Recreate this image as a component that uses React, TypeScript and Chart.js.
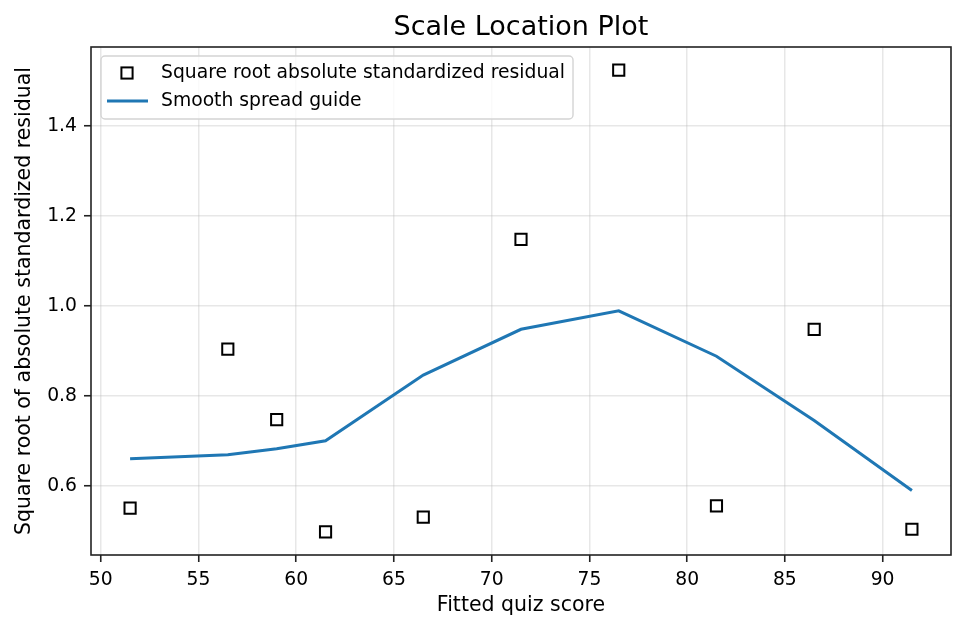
import React, { useEffect, useRef } from "react";
import { Chart, registerables } from "chart.js";

Chart.register(...registerables);

// Fitted values and diagnostic measures
const fittedScores = [51.5, 56.5, 59, 61.5, 66.5, 71.5, 76.5, 81.5, 86.5, 91.5];
const sqrtStdResiduals = [0.55, 0.904, 0.747, 0.497, 0.53, 1.148, 1.525, 0.555, 0.948, 0.503];
const smoothSpread = [0.66, 0.669, 0.682, 0.7, 0.846, 0.948, 0.989, 0.888, 0.745, 0.589];

// Axis tick positions
const xTicks = [50, 55, 60, 65, 70, 75, 80, 85, 90];
const yTicks = [0.6, 0.8, 1.0, 1.2, 1.4];

const TITLE = "Scale Location Plot";
const X_LABEL = "Fitted quiz score";
const Y_LABEL = "Square root of absolute standardized residual";
const SCATTER_LABEL = "Square root absolute standardized residual";
const LINE_LABEL = "Smooth spread guide";

const FONT = "'DejaVu Sans', 'Liberation Sans', sans-serif";
const LINE_BLUE = "#1f77b4";
const MARKER_RADIUS = 7.9;

// Axis limits: data extent plus a 5% margin on each side
function padded(vals: number[]): [number, number] {
  const lo = Math.min(...vals);
  const hi = Math.max(...vals);
  const m = (hi - lo) * 0.05;
  return [lo - m, hi + m];
}
const [xMin, xMax] = padded(fittedScores);
const [yMin, yMax] = padded([...sqrtStdResiduals, ...smoothSpread]);

// Draws the title, the full axes frame and the boxed legend inside the plot
const decorations = {
  id: "decorations",
  afterDraw(chart: any) {
    const { ctx, chartArea: a } = chart;
    ctx.save();

    // frame around the plotting area
    ctx.strokeStyle = "#222";
    ctx.lineWidth = 1.6;
    ctx.strokeRect(a.left, a.top, a.right - a.left, a.bottom - a.top);

    // title
    ctx.fillStyle = "#000";
    ctx.font = `27px ${FONT}`;
    ctx.textAlign = "center";
    ctx.textBaseline = "alphabetic";
    ctx.fillText(TITLE, (a.left + a.right) / 2, 35);

    // legend
    const ds = chart.data.datasets;
    ctx.font = `18.75px ${FONT}`;
    const boxX = a.left + 10;
    const boxY = a.top + 9;
    const textX = a.left + 70;
    const textW = Math.max(...ds.map((d: any) => ctx.measureText(d.label).width));
    const boxW = textX + textW + 8 - boxX;
    const boxH = 63;
    const r = 4;
    ctx.beginPath();
    ctx.moveTo(boxX + r, boxY);
    ctx.lineTo(boxX + boxW - r, boxY);
    ctx.arcTo(boxX + boxW, boxY, boxX + boxW, boxY + r, r);
    ctx.lineTo(boxX + boxW, boxY + boxH - r);
    ctx.arcTo(boxX + boxW, boxY + boxH, boxX + boxW - r, boxY + boxH, r);
    ctx.lineTo(boxX + r, boxY + boxH);
    ctx.arcTo(boxX, boxY + boxH, boxX, boxY + boxH - r, r);
    ctx.lineTo(boxX, boxY + r);
    ctx.arcTo(boxX, boxY, boxX + r, boxY, r);
    ctx.closePath();
    ctx.fillStyle = "rgba(255,255,255,0.8)";
    ctx.fill();
    ctx.strokeStyle = "#d4d4d4";
    ctx.lineWidth = 1.4;
    ctx.stroke();

    const rows = [a.top + 26, a.top + 54];
    ds.forEach((d: any, i: number) => {
      const cy = rows[i];
      if (d.showLine) {
        ctx.strokeStyle = d.borderColor;
        ctx.lineWidth = d.borderWidth;
        ctx.beginPath();
        ctx.moveTo(a.left + 16, cy);
        ctx.lineTo(a.left + 57, cy);
        ctx.stroke();
      } else {
        const half = Math.SQRT1_2 * d.pointRadius;
        ctx.strokeStyle = d.pointBorderColor;
        ctx.lineWidth = d.pointBorderWidth;
        ctx.strokeRect(a.left + 36 - half, cy - half, 2 * half, 2 * half);
      }
      ctx.fillStyle = "#000";
      ctx.textAlign = "left";
      ctx.textBaseline = "middle";
      ctx.fillText(d.label, textX, cy);
    });

    ctx.restore();
  },
};

export default function App() {
  const canvasRef = useRef<HTMLCanvasElement | null>(null);

  useEffect(() => {
    const canvas = canvasRef.current;
    if (!canvas) return;

    const gridColor = "rgba(176,176,176,0.3)";
    const tickFont = { family: FONT, size: 18.75 };
    const labelFont = { family: FONT, size: 20.5 };

    const chart = new Chart(canvas, {
      type: "scatter",
      data: {
        datasets: [
          {
            label: SCATTER_LABEL,
            data: fittedScores.map((x, i) => ({ x, y: sqrtStdResiduals[i] })),
            showLine: false,
            pointStyle: "rect",
            pointRadius: MARKER_RADIUS,
            pointHoverRadius: MARKER_RADIUS,
            pointBorderColor: "#000",
            pointBackgroundColor: "rgba(0,0,0,0)",
            pointBorderWidth: 2,
            borderColor: "#000",
          } as any,
          {
            label: LINE_LABEL,
            data: fittedScores.map((x, i) => ({ x, y: smoothSpread[i] })),
            showLine: true,
            borderColor: LINE_BLUE,
            borderWidth: 3,
            pointRadius: 0,
            pointHoverRadius: 0,
            tension: 0,
            fill: false,
          } as any,
        ],
      },
      options: {
        animation: false,
        responsive: false,
        devicePixelRatio: 1,
        events: [],
        layout: { padding: { top: 47, right: 15, left: 0, bottom: 0 } },
        plugins: {
          legend: { display: false },
          title: { display: false },
          tooltip: { enabled: false },
        },
        scales: {
          x: {
            type: "linear",
            min: xMin,
            max: xMax,
            afterBuildTicks: (s: any) => {
              s.ticks = xTicks.map((v) => ({ value: v }));
            },
            afterFit: (s: any) => {
              s.height = 78;
            },
            border: { display: false },
            grid: {
              color: gridColor,
              lineWidth: 1.5,
              drawTicks: true,
              tickColor: "#222",
              tickLength: 7,
              tickWidth: 1.6,
            },
            ticks: {
              color: "#000",
              font: tickFont,
              padding: 7,
              maxRotation: 0,
              autoSkip: false,
              callback: (v: any) => String(v),
            },
            title: {
              display: true,
              text: X_LABEL,
              color: "#000",
              font: labelFont,
              padding: { top: 0, bottom: 14.7 },
            },
          },
          y: {
            type: "linear",
            min: yMin,
            max: yMax,
            afterBuildTicks: (s: any) => {
              s.ticks = yTicks.map((v) => ({ value: v }));
            },
            afterFit: (s: any) => {
              s.width = 91;
            },
            border: { display: false },
            grid: {
              color: gridColor,
              lineWidth: 1.5,
              drawTicks: true,
              tickColor: "#222",
              tickLength: 7,
              tickWidth: 1.6,
            },
            ticks: {
              color: "#000",
              font: tickFont,
              padding: 7,
              autoSkip: false,
              callback: (v: any) => Number(v).toFixed(1),
            },
            title: {
              display: true,
              text: Y_LABEL,
              color: "#000",
              font: labelFont,
              padding: { top: 12, bottom: 0 },
            },
          },
        },
      },
      plugins: [decorations],
    });

    return () => chart.destroy();
  }, []);

  return (
    <div
      style={{
        position: "fixed",
        left: 0,
        top: 0,
        width: 966,
        height: 633,
        background: "#fff",
      }}
    >
      <canvas ref={canvasRef} width={966} height={633} style={{ display: "block" }} />
    </div>
  );
}
